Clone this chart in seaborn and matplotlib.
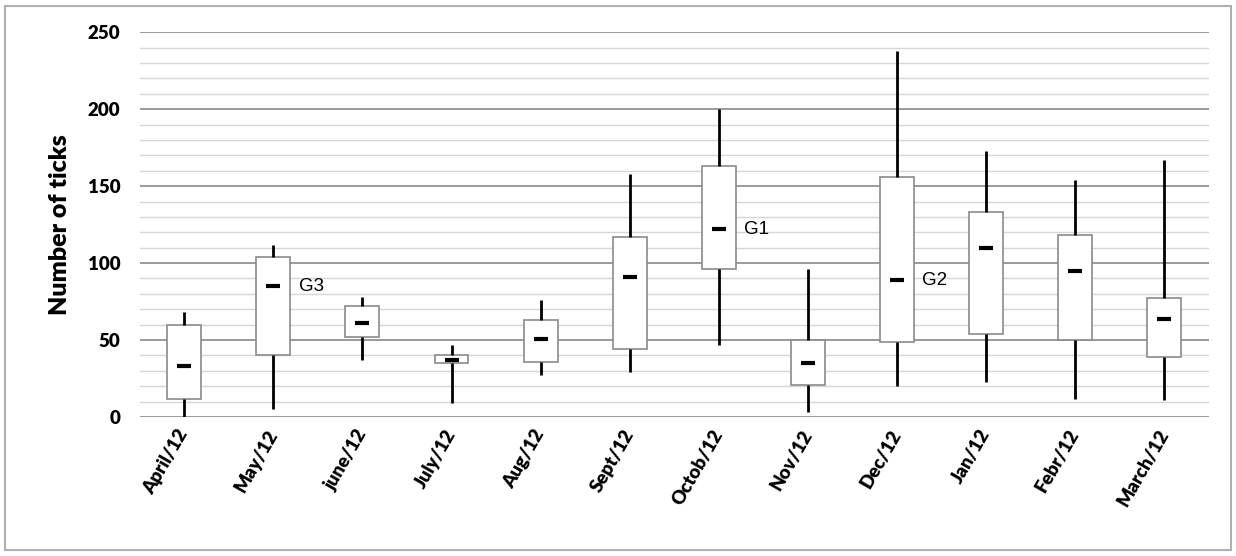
import numpy as np
import pandas as pd
import matplotlib
matplotlib.use("Agg")
import matplotlib.pyplot as plt
import seaborn as sns
from matplotlib.ticker import MultipleLocator
from matplotlib.patches import Rectangle

months = ["April/12", "May/12", "june/12", "July/12", "Aug/12", "Sept/12",
          "Octob/12", "Nov/12", "Dec/12", "Jan/12", "Febr/12", "March/12"]
mins    = [0,   5,  37,  9, 27, 29,  47,  3,  20,  23,  12,  11]
q1s     = [12, 40,  52, 35, 36, 44,  96, 21,  49,  54,  50,  39]
medians = [33, 85,  61, 37, 51, 91, 122, 35,  89, 110,  95,  64]
q3s     = [60, 104, 72, 40, 63, 117, 163, 50, 156, 133, 118, 77]
maxs    = [68, 112, 78, 47, 76, 158, 200, 96, 238, 173, 154, 167]
group_labels = {"Octob/12": "G1", "Dec/12": "G2", "May/12": "G3"}

sns.set_theme(style="white")
plt.rcParams["font.family"] = ["Lato", "DejaVu Sans"]
plt.rcParams["text.color"] = "black"
plt.rcParams["axes.labelcolor"] = "black"
plt.rcParams["xtick.color"] = "black"
plt.rcParams["ytick.color"] = "black"

# five summary values per month -> seaborn reproduces them exactly (whis 0-100)
rows = []
for m, a, b, c, d, e in zip(months, mins, q1s, medians, q3s, maxs):
    for v in (a, b, c, d, e):
        rows.append({"month": m, "ticks": v})
df = pd.DataFrame(rows)

fig = plt.figure(figsize=(12.36, 5.56), dpi=100)
ax = fig.add_axes([0.113, 0.25, 0.865, 0.692])

sns.boxplot(data=df, x="month", y="ticks", order=months, whis=(0, 100),
            width=0.38, showcaps=False, showfliers=False, ax=ax,
            boxprops=dict(facecolor="white", edgecolor="#8a8a8a", linewidth=1.2),
            whiskerprops=dict(color="black", linewidth=2),
            medianprops=dict(visible=False), zorder=3)

sns.pointplot(x=months, y=medians, order=months, linestyle="none", marker="_",
              markersize=9.5, markeredgewidth=3, color="black", errorbar=None,
              ax=ax, zorder=5)

for i, m in enumerate(months):
    if m in group_labels:
        ax.annotate(group_labels[m], xy=(i + 0.19, medians[i]), xytext=(6, 0),
                    textcoords="offset points", va="center", ha="left",
                    fontsize=13.5, family="Liberation Sans", color="black",
                    zorder=6)

ax.set_xlim(-0.5, len(months) - 0.5)
ax.set_ylim(0, 250)
ax.set_yticks(range(0, 251, 50))
ax.yaxis.set_minor_locator(MultipleLocator(10))
ax.grid(which="major", axis="y", color="#9a9a9a", linewidth=1.4)
ax.grid(which="minor", axis="y", color="#d6d6d6", linewidth=1.0)
ax.set_axisbelow(True)
for s in ax.spines.values():
    s.set_visible(False)
ax.tick_params(axis="both", which="both", length=0)
ax.tick_params(axis="y", pad=14, labelsize=13.5)
ax.tick_params(axis="x", pad=10, labelsize=13.5)
for lab in ax.get_yticklabels():
    lab.set_fontweight("heavy")
ax.set_xticks(range(len(months)))
ax.set_xticklabels(months, rotation=60, ha="right", va="center",
                   rotation_mode="anchor", fontweight="heavy")
ax.set_xlabel("")
ax.set_ylabel("Number of ticks", fontsize=18, fontweight="heavy", labelpad=12)

fig.patches.append(Rectangle((0.004, 0.01), 0.992, 0.98, transform=fig.transFigure,
                             fill=False, edgecolor="#b0b0b0", linewidth=1.5))

fig.savefig("out.png", dpi=100)
